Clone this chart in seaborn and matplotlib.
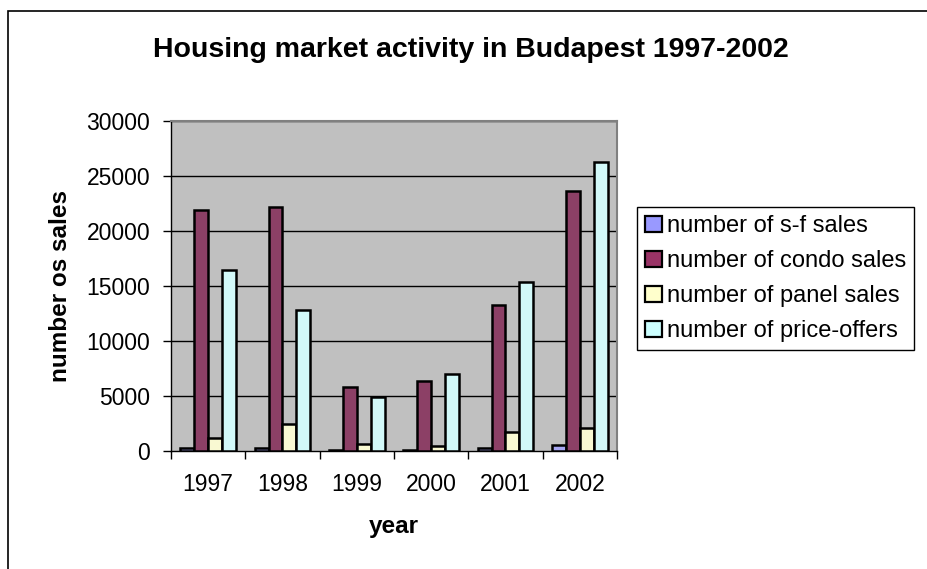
import matplotlib
matplotlib.use("Agg")
import matplotlib.pyplot as plt
import matplotlib.patches as mpatches
import seaborn as sns
import pandas as pd

years = ["1997", "1998", "1999", "2000", "2001", "2002"]
sf_sales = [250, 300, 50, 60, 250, 520]
condo_sales = [21900, 22200, 5800, 6400, 13300, 23600]
panel_sales = [1220, 2500, 670, 460, 1770, 2070]
price_offers = [16500, 12850, 4870, 7000, 15400, 26300]
series_names = ["number of s-f sales", "number of condo sales",
                "number of panel sales", "number of price-offers"]
colors = ["#9999FF", "#993366", "#FFFFCC", "#CCFFFF"]

rows = []
for name, vals in zip(series_names, [sf_sales, condo_sales, panel_sales, price_offers]):
    for y, v in zip(years, vals):
        rows.append({"year": y, "series": name, "value": v})
df = pd.DataFrame(rows)

sns.set_style("white")
plt.rcParams["font.family"] = ["Liberation Sans", "DejaVu Sans"]
for k in ["text.color", "axes.labelcolor", "xtick.color", "ytick.color"]:
    plt.rcParams[k] = "black"

W, H = 928, 569
fig = plt.figure(figsize=(W/100, H/100), dpi=100)
ax = fig.add_axes([171/W, 1-451/H, (617-171)/W, (451-121)/H])
ax.set_facecolor("#C0C0C0")

sns.barplot(data=df, x="year", y="value", hue="series", order=years,
            hue_order=series_names, palette=colors, width=0.75, gap=0,
            edgecolor="black", linewidth=1.8, ax=ax, legend=True, zorder=3)

ax.set_ylim(0, 30000)
ax.set_xlim(-0.5, 5.5)
ax.set_yticks(range(0, 30001, 5000))
ax.set_yticklabels([str(v) for v in range(0, 30001, 5000)], fontsize=16.5)
for yv in range(5000, 30001, 5000):
    ax.axhline(yv, color="black", linewidth=1.0, zorder=1)
ax.set_xticks(range(6))
ax.set_xticklabels(years, fontsize=16.5)
ax.tick_params(axis="x", which="major", length=0, pad=16)
ax.set_xticks([i - 0.5 for i in range(7)], minor=True)
ax.tick_params(axis="x", which="minor", length=6, width=1, color="black", direction="out")
ax.tick_params(axis="y", which="major", length=6, width=1, color="black", direction="out", pad=9)
ax.xaxis.set_ticks_position("bottom")
ax.yaxis.set_ticks_position("left")

for s in ["top", "right"]:
    ax.spines[s].set_color("#808080")
    ax.spines[s].set_linewidth(1.5)
for s in ["left", "bottom"]:
    ax.spines[s].set_color("black")
    ax.spines[s].set_linewidth(1.0)

ax.set_xlabel("year", fontsize=17.5, fontweight="bold")
ax.set_ylabel("number os sales", fontsize=17.5, fontweight="bold")
ax.xaxis.set_label_coords(394/W, 1-527/H, transform=fig.transFigure)
ax.yaxis.set_label_coords(61/W, 1-286/H, transform=fig.transFigure)
ax.xaxis.label.set_va("center")
ax.yaxis.label.set_va("center")

fig.text(471/W, 1-50/H, "Housing market activity in Budapest 1997-2002",
         ha="center", va="center", fontsize=20.5, fontweight="bold")

handles = [mpatches.Patch(facecolor=c, edgecolor="black", linewidth=1.6) for c in colors]
leg = ax.legend(handles, series_names, loc="upper left",
                bbox_to_anchor=(637/W, 1-207/H), bbox_transform=fig.transFigure,
                borderaxespad=0, fontsize=17, frameon=True, fancybox=False,
                handlelength=0.7, handleheight=0.7, handletextpad=0.2,
                labelspacing=0.55, borderpad=0.35)
leg.get_frame().set_edgecolor("black")
leg.get_frame().set_linewidth(1.0)
leg.get_frame().set_alpha(1)

fig.patches.append(mpatches.Rectangle((8/W, -0.1), 1.2, 1.1 - 11/H, transform=fig.transFigure,
                                      fill=False, edgecolor="black", linewidth=1.2))

fig.savefig("out.png", dpi=100, facecolor="white")
